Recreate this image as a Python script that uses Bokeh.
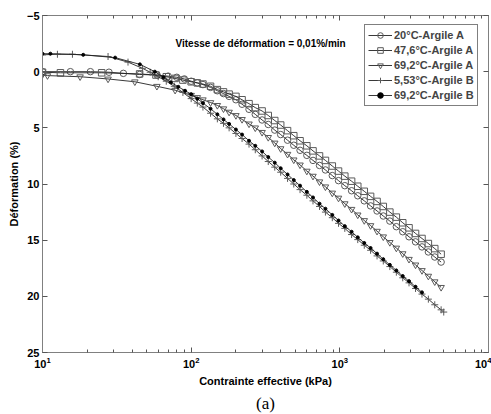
from bokeh.plotting import figure
from bokeh.models import Range1d, FixedTicker, LinearAxis, LogAxis, Label, Legend, LegendItem, Title
from bokeh.embed import file_html
from bokeh.resources import INLINE

# ---------------- data ----------------
s_20A = [10, 15.4, 21, 28, 35, 45, 59, 70, 80, 90,
         100, 110, 120, 135, 150, 165, 180, 200, 220, 245,
         270, 300, 330, 365, 400, 445, 490, 540, 600, 660,
         730, 800, 890, 980, 1080, 1200, 1320, 1460, 1610, 1780,
         1960, 2170, 2400, 2650, 2920, 3230, 3570, 3940, 4350, 4800]
e_20A = [0.0, 0.0, 0.0, 0.05, 0.15, 0.25, 0.3, 0.4, 0.5, 0.65,
         0.85, 1.0, 1.15, 1.4, 1.7, 1.95, 2.2, 2.5, 2.9, 3.35,
         3.8, 4.3, 4.7, 5.2, 5.6, 6.1, 6.55, 7.0, 7.45, 7.9,
         8.35, 8.75, 9.25, 9.7, 10.15, 10.6, 11.05, 11.5, 11.95, 12.4,
         12.85, 13.3, 13.8, 14.25, 14.7, 15.15, 15.6, 16.05, 16.5, 16.95]

s_47A = [10, 13.2, 25, 45, 58, 68, 78, 88,
         100, 110, 120, 135, 150, 165, 180, 200, 220, 245,
         270, 300, 330, 365, 400, 445, 490, 540, 600, 660,
         730, 800, 890, 980, 1080, 1200, 1320, 1460, 1610, 1780,
         1960, 2170, 2400, 2650, 2920, 3230, 3570, 3940, 4350, 4800]
e_47A = [0.05, 0.1, 0.1, 0.2, 0.3, 0.45, 0.6, 0.75,
         0.9, 1.0, 1.1, 1.3, 1.6, 1.8, 2.0, 2.2, 2.5, 2.85,
         3.2, 3.5, 3.9, 4.35, 4.75, 5.25, 5.7, 6.15, 6.6, 7.05,
         7.5, 7.9, 8.4, 8.85, 9.3, 9.75, 10.2, 10.65, 11.1, 11.55,
         12.0, 12.5, 12.95, 13.45, 13.9, 14.4, 14.85, 15.3, 15.75, 16.25]

s_69A = [10, 10.8, 17.9, 27.6, 41.8, 58.8, 78,
         100, 110, 120, 135, 150, 165, 180, 200, 220, 245,
         270, 300, 330, 365, 400, 445, 490, 540, 600, 660,
         730, 800, 890, 980, 1080, 1200, 1320, 1460, 1610, 1780,
         1960, 2170, 2400, 2650, 2920, 3230, 3570, 3940, 4350, 4800]
e_69A = [0.25, 0.35, 0.45, 0.65, 0.9, 1.3, 1.65,
         2.1, 2.3, 2.5, 2.75, 3.0, 3.3, 3.6, 3.9, 4.25, 4.65,
         5.0, 5.4, 5.85, 6.35, 6.85, 7.35, 7.85, 8.3, 8.85, 9.3,
         9.8, 10.25, 10.8, 11.25, 11.75, 12.25, 12.75, 13.25, 13.7, 14.2,
         14.7, 15.2, 15.7, 16.2, 16.7, 17.2, 17.7, 18.2, 18.7, 19.2]

s_5B = [10, 12.6, 15.9, 27.6, 37.6, 47, 53, 60, 68, 77, 88,
        100, 110, 120, 135, 150, 165, 180, 200, 220, 245,
        270, 300, 330, 365, 400, 445, 490, 540, 600, 660,
        730, 800, 890, 980, 1080, 1200, 1320, 1460, 1610, 1780,
        1960, 2170, 2400, 2650, 2920, 3230, 3570, 3940, 4350, 4800, 5000]
e_5B = [-1.5, -1.55, -1.55, -1.35, -0.85, -0.3, 0.05, 0.45, 0.85, 1.3, 1.85,
        2.4, 2.8, 3.15, 3.7, 4.2, 4.6, 5.0, 5.5, 5.95, 6.45,
        6.95, 7.5, 8.0, 8.5, 8.95, 9.5, 10.0, 10.5, 11.0, 11.5,
        12.0, 12.5, 13.0, 13.5, 13.95, 14.5, 14.95, 15.45, 15.9, 16.4,
        16.85, 17.35, 17.85, 18.35, 18.8, 19.3, 19.8, 20.25, 20.75, 21.2, 21.4]

s_69B = [10, 11.3, 18.8, 30.8, 45.2, 57, 65, 73, 82, 91,
         100, 110, 120, 135, 150, 165, 180, 200, 220, 245,
         270, 300, 330, 365, 400, 445, 490, 540, 600, 660,
         730, 800, 890, 980, 1080, 1200, 1320, 1460, 1610, 1780,
         1960, 2170, 2400, 2650, 2920, 3230, 3570]
e_69B = [-1.6, -1.6, -1.5, -1.25, -0.65, 0.0, 0.5, 0.95, 1.35, 1.7,
         2.0, 2.4, 2.8, 3.3, 3.8, 4.25, 4.65, 5.15, 5.6, 6.15,
         6.6, 7.1, 7.6, 8.1, 8.6, 9.15, 9.65, 10.15, 10.7, 11.2,
         11.75, 12.2, 12.75, 13.25, 13.75, 14.25, 14.75, 15.25, 15.7, 16.2,
         16.7, 17.2, 17.7, 18.2, 18.65, 19.15, 19.65]

labels = ["20°C-Argile A", "47,6°C-Argile A", "69,2°C-Argile A",
          "5,53°C-Argile B", "69,2°C-Argile B"]
x_ticks = [10, 100, 1000, 10000]
x_minor = [20, 30, 40, 50, 60, 70, 80, 90,
           200, 300, 400, 500, 600, 700, 800, 900,
           2000, 3000, 4000, 5000, 6000, 7000, 8000, 9000]
y_ticks = [-5, 0, 5, 10, 15, 20, 25]

FONT = "Liberation Sans"

p = figure(width=491, height=414, x_axis_type="log",
           x_range=Range1d(10, 10000), y_range=Range1d(25, -5),
           output_backend="svg", toolbar_location=None,
           min_border_left=42, min_border_right=0, min_border_top=15,
           min_border_bottom=0)
p.xgrid.visible = False
p.ygrid.visible = False
p.outline_line_color = "#808080"
p.background_fill_color = "white"
p.border_fill_color = "white"

bottom = p.below[0]
left = p.left[0]
top = LogAxis()
right = LinearAxis()
p.add_layout(top, "above")
p.add_layout(right, "right")

for ax in [bottom, top]:
    ax.ticker = FixedTicker(ticks=x_ticks, minor_ticks=x_minor)
for ax in [left, right]:
    ax.ticker = FixedTicker(ticks=y_ticks)

for ax in [bottom, left, top, right]:
    ax.axis_line_color = "#808080"
    ax.major_tick_line_color = "#555555"
    ax.minor_tick_line_color = "#555555"
    ax.major_tick_in = 5
    ax.major_tick_out = 0
    ax.minor_tick_in = 3
    ax.minor_tick_out = 0
    ax.major_label_text_font = FONT
    ax.major_label_text_font_style = "bold"
    ax.major_label_text_font_size = "11px"
    ax.major_label_text_color = "black"
    ax.major_label_standoff = 3

bottom.major_label_standoff = 4
top.major_label_overrides = {t: " " for t in x_ticks}
right.major_label_overrides = {t: " " for t in y_ticks}
for ax in [top, right]:
    ax.major_label_text_font_size = "1px"
    ax.major_label_standoff = 0

bottom.axis_label = "Contrainte effective (kPa)"
left.axis_label = "Déformation (%)"
for ax in [bottom, left]:
    ax.axis_label_text_font = FONT
    ax.axis_label_text_font_style = "bold"
    ax.axis_label_text_font_size = "11px"
    ax.axis_label_text_color = "black"
    ax.axis_label_standoff = 4

LINE = "#222222"
MK = "#5a5a5a"
series = [
    (s_20A, e_20A, "circle", 6.5, None),
    (s_47A, e_47A, "square", 6.5, None),
    (s_69A, e_69A, "inverted_triangle", 6.5, None),
    (s_5B, e_5B, "cross", 7, None),
    (s_69B, e_69B, "circle", 3, "black"),
]
items = []
for (s, e, mk, sz, fill), lab in zip(series, labels):
    lr = p.line(s, e, line_color=LINE, line_width=0.9)
    sr = p.scatter(s, e, marker=mk, size=sz, line_color=MK if fill is None else "black",
                   fill_color=fill, line_width=1)
    items.append(LegendItem(label=lab, renderers=[lr, sr]))

legend = Legend(items=items, location=(322, 246))
legend.label_text_font = FONT
legend.label_text_font_style = "bold"
legend.label_text_font_size = "11px"
legend.border_line_color = "black"
legend.border_line_width = 1
legend.background_fill_color = "white"
legend.background_fill_alpha = 1
legend.glyph_width = 24
legend.glyph_height = 14
legend.label_height = 14
legend.spacing = 1
legend.padding = 3
legend.margin = 0
legend.label_standoff = 2
p.add_layout(legend)

p.add_layout(Label(x=133, y=309, x_units="screen", y_units="screen",
                   text="Vitesse de déformation = 0,01%/min",
                   text_font=FONT, text_font_style="bold", text_font_size="10px",
                   text_baseline="middle", text_color="black"))

cap = Title(text="(a)", align="center", text_font="Liberation Serif",
            text_font_style="normal", text_font_size="17px", text_color="black",
            standoff=4)
p.add_layout(cap, "below")

open("out.html", "w").write(file_html(p, INLINE))
